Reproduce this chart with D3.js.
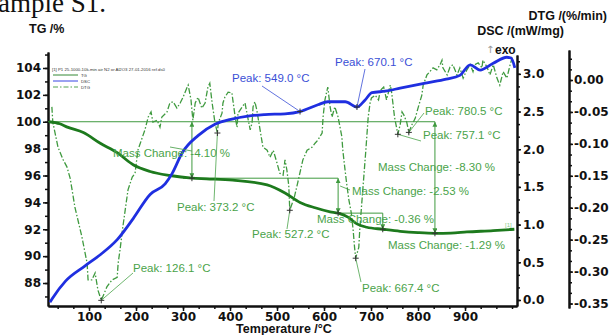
<!DOCTYPE html>
<html>
<head>
<meta charset="utf-8">
<script src="https://cdn.jsdelivr.net/npm/d3@7"></script>
<style>
body { margin: 0; background: #fff; }
svg { display: block; }
.axis text { font-family: "DejaVu Sans", sans-serif; font-weight: bold; font-size: 12px; fill: #111; }
.axis path, .axis line { stroke: #111; }
.axis path { stroke-width: 2; }
.axis line { stroke-width: 1.5; }
.lbl { font-family: "Liberation Sans", Arial, sans-serif; font-size: 11.5px; }
.title { font-family: "Liberation Sans", Arial, sans-serif; font-weight: bold; font-size: 12.5px; fill: #111; }
</style>
</head>
<body>
<svg id="chart" width="609" height="335"></svg>
<script>
// TG curve (temperature °C, mass %)
const tgTemp = [15, 38, 54, 88, 124, 160, 194, 230, 272, 319, 350, 406, 479, 517, 549, 581, 613, 630, 651, 670, 691, 725, 762, 800, 836, 870, 904, 960, 1005];
const tgMass = [100.0, 99.85, 99.6, 99.2, 98.4, 97.7, 96.8, 96.3, 96.0, 95.8, 95.75, 95.65, 95.3, 94.7, 94.0, 93.6, 93.3, 93.2, 92.9, 92.4, 92.15, 92.0, 91.85, 91.75, 91.7, 91.72, 91.8, 91.9, 92.0];

// DSC curve (mW/mg)
const dscTemp = [17, 22, 50, 91, 124, 160, 194, 230, 262, 277, 298, 332, 368, 404, 438, 474, 517, 549, 587, 608, 645, 670, 687, 702, 730, 762, 819, 860, 889, 911, 932, 960, 989, 998, 1006];
const dscHeat = [-0.03, 0.02, 0.25, 0.45, 0.60, 0.80, 1.08, 1.40, 1.54, 1.68, 1.95, 2.18, 2.33, 2.40, 2.44, 2.46, 2.47, 2.50, 2.59, 2.63, 2.63, 2.56, 2.65, 2.75, 2.77, 2.81, 2.88, 2.93, 2.98, 3.12, 3.05, 3.14, 3.22, 3.21, 3.08];

// DTG curve (%/min)
const dtgTemp = [21, 23, 34, 45, 53, 60, 70, 85, 96, 98, 106, 113, 119, 126.1, 138, 149, 160, 162, 166, 172, 183, 192, 198, 204, 219, 226, 232, 236, 245, 251, 255, 266, 272, 279, 287, 294, 300, 309, 311, 317, 321, 326, 332, 340, 347, 353, 357, 362, 368, 373.2, 375, 383, 385, 389, 396, 404, 406, 411, 415, 417, 426, 432, 436, 443, 447, 449, 453, 457, 464, 470, 479, 485, 492, 500, 506, 513, 517, 521, 525, 527.2, 537, 544, 555, 564, 575, 581, 587, 596, 598, 602, 608, 613, 617, 623, 630, 638, 640, 644, 648, 653, 658, 662, 665, 667.4, 674, 676, 682, 689, 694, 698, 701, 709, 716, 720, 727, 733, 741, 744, 750, 757.1, 762, 766, 770, 776, 780.5, 787, 794, 800, 808, 811, 819, 825, 832, 840, 847, 851, 853, 862, 868, 874, 883, 889, 896, 904, 911, 917, 921, 928, 936, 938, 947, 953, 960, 968, 974, 981, 985, 989, 996, 1000, 1002];
const dtgRate = [-0.042, -0.066, -0.105, -0.125, -0.136, -0.154, -0.199, -0.246, -0.287, -0.313, -0.313, -0.302, -0.329, -0.345, -0.324, -0.313, -0.309, -0.287, -0.266, -0.230, -0.172, -0.152, -0.146, -0.110, -0.078, -0.058, -0.050, -0.066, -0.063, -0.074, -0.058, -0.050, -0.036, -0.034, -0.044, -0.036, -0.027, -0.011, -0.008, -0.031, -0.063, -0.036, -0.027, -0.044, -0.036, -0.011, -0.005, -0.036, -0.067, -0.083, -0.067, -0.052, -0.036, -0.027, -0.019, -0.020, -0.031, -0.058, -0.074, -0.052, -0.042, -0.036, -0.052, -0.078, -0.067, -0.042, -0.034, -0.047, -0.078, -0.105, -0.110, -0.121, -0.110, -0.130, -0.146, -0.149, -0.125, -0.141, -0.165, -0.204, -0.183, -0.161, -0.125, -0.110, -0.105, -0.099, -0.094, -0.083, -0.058, -0.031, -0.011, -0.042, -0.058, -0.042, -0.058, -0.089, -0.110, -0.136, -0.161, -0.188, -0.208, -0.235, -0.262, -0.279, -0.262, -0.235, -0.177, -0.110, -0.058, -0.036, -0.028, -0.024, -0.031, -0.016, -0.011, -0.031, -0.008, -0.020, -0.058, -0.085, -0.070, -0.050, -0.055, -0.066, -0.082, -0.070, -0.060, -0.044, -0.024, -0.008, 0.008, 0.013, 0.019, 0.016, 0.024, 0.031, 0.019, 0.008, 0.020, 0.024, 0.008, 0.019, 0.003, 0.016, 0.024, 0.013, 0.024, 0.027, 0.019, 0.031, 0.020, 0.008, 0.024, 0.003, -0.008, 0.013, 0.008, 0.003, 0.024, 0.034, 0.031];

// peaks
const dtgPeakTemp = [126.1, 373.2, 527.2, 667.4, 757.1, 780.5];
const dtgPeakRate = [-0.345, -0.083, -0.204, -0.279, -0.085, -0.082];
const dscPeakTemp = [549.0, 670.1];
const dscPeakHeat = [2.50, 2.56];

// mass change steps: arrow temperature, from %, to %
const stepTemp = [319, 630, 725, 836];
const stepFrom = [100, 95.8, 93.2, 100];
const stepTo = [95.8, 93.2, 92.0, 91.7];
const massChanges = ["-4.10", "-8.30", "-2.53", "-0.36", "-1.29"];

// axis ticks
const tempTicks = [100, 200, 300, 400, 500, 600, 700, 800, 900];
const tgTicks = [88, 90, 92, 94, 96, 98, 100, 102, 104];
const dscTicks = [0, 0.5, 1.0, 1.5, 2.0, 2.5, 3.0];
const dtgTicks = [0, -0.05, -0.10, -0.15, -0.20, -0.25, -0.30, -0.35];

const svg = d3.select("#chart");
const green = "#3f9a3f", dark = "#1d7a1d", blue = "#1f2fe0", lblGreen = "#4aa34a", lblBlue = "#3a4fd6";

const x = d3.scaleLinear().domain([12.77, 1010.6]).range([48, 517]);
const yTG = d3.scaleLinear().domain([86.29, 105.19]).range([306, 52]);
const yDSC = d3.scaleLinear().domain([-0.08, 3.25]).range([306, 55]);
const yDTG = d3.scaleLinear().domain([-0.357, 0.047]).range([308, 50]);

// top caption cut off by the crop
svg.append("text").attr("x", -2).attr("y", 12)
  .style("font-family", "'Liberation Serif', serif").style("font-size", "27px").style("fill", "#111")
  .text("ample S1.");

// axes
const minor = (lo, hi, step) => d3.range(Math.ceil(lo / step - 1e-9), Math.floor(hi / step + 1e-9) + 1).map(i => +(i * step).toFixed(4));

const gl = svg.append("g").attr("class", "axis").attr("transform", "translate(48,0)");
gl.call(d3.axisLeft(yTG).tickValues(tgTicks).tickSize(5).tickSizeOuter(0).tickPadding(2).tickFormat(d3.format("d")));
gl.append("g").call(d3.axisLeft(yTG).tickValues(minor(86.29, 105.19, 1)).tickSize(3).tickSizeOuter(0).tickFormat(""));

const gb = svg.append("g").attr("class", "axis").attr("transform", "translate(0,306)");
gb.call(d3.axisBottom(x).tickValues(tempTicks).tickSize(5).tickSizeOuter(0).tickPadding(1));
gb.append("g").call(d3.axisBottom(x).tickValues(minor(12.77, 1010.6, 100 / 3)).tickSize(3).tickSizeOuter(0).tickFormat(""));

const gr = svg.append("g").attr("class", "axis").attr("transform", "translate(517,0)");
gr.call(d3.axisRight(yDSC).tickValues(dscTicks).tickSize(4).tickSizeOuter(0).tickPadding(2).tickFormat(d3.format(".1f")));
gr.append("g").call(d3.axisRight(yDSC).tickValues(minor(-0.08, 3.25, 0.5 / 3)).tickSize(3).tickSizeOuter(0).tickFormat(""));

const gd = svg.append("g").attr("class", "axis").attr("transform", "translate(569,0)");
gd.call(d3.axisRight(yDTG).tickValues(dtgTicks).tickSize(4).tickSizeOuter(0).tickPadding(1)
  .tickFormat(d => d3.format(".2f")(d).replace("\u2212", "-")));
gd.append("g").call(d3.axisRight(yDTG).tickValues(minor(-0.357, 0.047, 0.05 / 3)).tickSize(3).tickSizeOuter(0).tickFormat(""));
svg.selectAll(".axis g g path.domain").remove();

// titles
svg.append("text").attr("class", "title").attr("x", 29).attr("y", 33).text("TG /%");
svg.append("text").attr("class", "title").attr("x", 607).attr("y", 20).attr("text-anchor", "end").text("DTG /(%/min)");
svg.append("text").attr("class", "title").attr("x", 564).attr("y", 35).attr("text-anchor", "end").text("DSC /(mW/mg)");
svg.append("text").attr("x", 486).attr("y", 53).style("font-family", "'DejaVu Sans', sans-serif").style("font-size", "10px").style("fill", "#999").text("\u2191");
svg.append("text").attr("class", "title").attr("x", 495).attr("y", 54).style("font-size", "12px").text("exo");
svg.append("text").attr("class", "title").attr("x", 284).attr("y", 333).attr("text-anchor", "middle").style("font-size", "12.5px").text("Temperature /\u00B0C");

// legend
const lg = svg.append("g");
lg.append("text").attr("x", 52).attr("y", 71).style("font-family", "'Liberation Sans', sans-serif").style("font-size", "4.3px").style("fill", "#333")
  .text("[1] P1 25-1000-10k-min air N2 or Al2O3 27-01-2016 ref.ds0");
[["TG", dark, null], ["DSC", blue, null], ["DTG", green, "5,2,1.5,2"]].forEach((d, i) => {
  lg.append("line").attr("x1", 53).attr("x2", 78).attr("y1", 75 + i * 6).attr("y2", 75 + i * 6)
    .attr("stroke", d[1]).attr("stroke-width", 0.9).attr("stroke-dasharray", d[2]);
  lg.append("text").attr("x", 81).attr("y", 76.5 + i * 6).style("font-family", "'Liberation Sans', sans-serif")
    .style("font-size", "4.3px").style("fill", "#333").text(d[0]);
});

// arrow markers
const defs = svg.append("defs");
defs.append("marker").attr("id", "ah").attr("viewBox", "0 0 10 10").attr("refX", 10).attr("refY", 5)
  .attr("markerWidth", 5).attr("markerHeight", 5).attr("orient", "auto-start-reverse")
  .append("path").attr("d", "M0,0L10,5L0,10z").attr("fill", green);

// reference lines for mass changes
const ann = svg.append("g").attr("stroke", green).attr("stroke-width", 1).attr("fill", "none");
ann.append("line").attr("x1", x(12.77)).attr("x2", x(836)).attr("y1", yTG(100)).attr("y2", yTG(100));
ann.append("line").attr("x1", x(300)).attr("x2", x(630)).attr("y1", yTG(95.8)).attr("y2", yTG(95.8));
ann.append("line").attr("x1", x(630)).attr("x2", x(725)).attr("y1", yTG(93.2)).attr("y2", yTG(93.2));
stepTemp.forEach((t, i) => {
  ann.append("line").attr("x1", x(t)).attr("x2", x(t)).attr("y1", yTG(stepFrom[i])).attr("y2", yTG(stepTo[i]))
    .attr("marker-start", i === 2 ? null : "url(#ah)").attr("marker-end", "url(#ah)");
});

// curves
svg.append("path").datum(d3.zip(dtgTemp, dtgRate))
  .attr("d", d3.line().x(d => x(d[0])).y(d => yDTG(d[1])))
  .attr("fill", "none").attr("stroke", green).attr("stroke-width", 1.3).attr("stroke-dasharray", "6,2,1.5,2");
svg.append("path").datum(d3.zip(tgTemp, tgMass))
  .attr("d", d3.line().curve(d3.curveMonotoneX).x(d => x(d[0])).y(d => yTG(d[1])))
  .attr("fill", "none").attr("stroke", dark).attr("stroke-width", 2.8);
svg.append("path").datum(d3.zip(dscTemp, dscHeat))
  .attr("d", d3.line().curve(d3.curveMonotoneX).x(d => x(d[0])).y(d => yDSC(d[1])))
  .attr("fill", "none").attr("stroke", blue).attr("stroke-width", 2.8);

// peak labels with leader lines
const lab = (tx, ty, str, col, lx1, ly1, lx2, ly2) => {
  svg.append("line").attr("x1", lx1).attr("y1", ly1).attr("x2", lx2).attr("y2", ly2).attr("stroke", col).attr("stroke-width", 0.8);
  svg.append("text").attr("class", "lbl").attr("x", tx).attr("y", ty).style("fill", col).text(str);
};
const cross = (cx, cy) => {
  svg.append("path").attr("d", `M${cx - 3},${cy}h6M${cx},${cy - 3}v6`).attr("stroke", "#333").attr("stroke-width", 1);
};
const dtgLab = [[133, 272, 133, 273], [177, 211, 214, 201], [252, 238, 287, 229], [362, 292, 361, 282], [423, 139, 421, 141], [425, 115, 424, 113]];
dtgPeakTemp.forEach((t, i) => {
  const px = x(t), py = yDTG(dtgPeakRate[i]), l = dtgLab[i];
  lab(l[0], l[1], "Peak: " + t.toFixed(1) + " \u00B0C", lblGreen, px, py, l[2], l[3]);
  cross(px, py);
});
const dscLab = [[232, 82, 262, 86], [335, 66, 365, 69]];
dscPeakTemp.forEach((t, i) => {
  const px = x(t), py = yDSC(dscPeakHeat[i]), l = dscLab[i];
  lab(l[0], l[1], "Peak: " + t.toFixed(1) + " \u00B0C", lblBlue, px, py, l[2], l[3]);
  cross(px, py);
});
stepTemp.forEach((t, i) => cross(x(t), yTG(stepTo[i])));

// mass change labels
const mcPos = [[113, 157], [378, 171], [352, 195], [317, 223], [388, 249]];
massChanges.forEach((m, i) => {
  svg.append("text").attr("class", "lbl").attr("x", mcPos[i][0]).attr("y", mcPos[i][1]).style("fill", lblGreen)
    .text("Mass Change: " + m + " %");
});
svg.append("line").attr("x1", 170).attr("y1", 147).attr("x2", x(319)).attr("y2", 151).attr("stroke", green).attr("stroke-width", 0.8);
svg.append("line").attr("x1", x(630) + 2).attr("y1", 186).attr("x2", 350).attr("y2", 190).attr("stroke", green).attr("stroke-width", 0.8);

svg.append("text").attr("x", 505).attr("y", 227).style("font-family", "'Liberation Sans', sans-serif")
  .style("font-size", "6px").style("fill", "#8c8").text("[1]");
</script>
</body>
</html>
